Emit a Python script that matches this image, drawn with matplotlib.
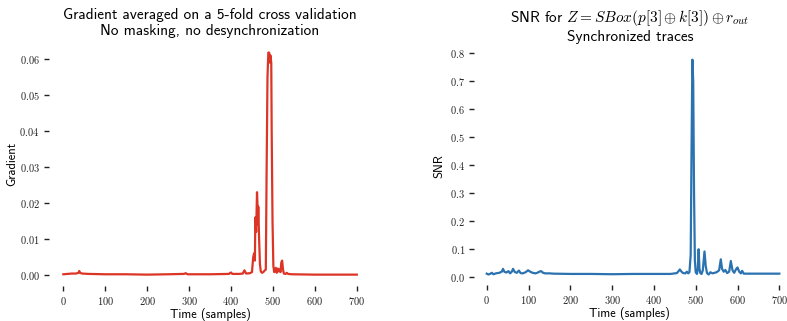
import matplotlib
matplotlib.use("Agg")
import matplotlib.pyplot as plt
from matplotlib.ticker import FuncFormatter

plt.rcParams["mathtext.fontset"] = "cm"
plt.rcParams["font.family"] = ["cmss10", "DejaVu Sans"]
plt.rcParams["axes.unicode_minus"] = False

# gradient (left panel)
grad_t = [0, 10, 20, 30, 36, 38, 40, 45, 60, 100, 150, 200, 250, 288, 292, 296,
          350, 395, 400, 403, 420, 428, 432, 436, 445, 450, 453, 455, 457, 458,
          460, 462, 463, 464, 465, 467, 469, 471, 474, 477, 480, 483, 485, 487,
          489, 491, 493, 494, 496, 497, 499, 501, 503, 505, 507, 509, 512, 514,
          516, 518, 520, 522, 524, 526, 530, 533, 536, 545, 600, 700]
grad_v = [0.0002, 0.0003, 0.0004, 0.0004, 0.0006, 0.0011, 0.0006, 0.0004,
          0.0003, 0.0002, 0.0002, 0.0001, 0.0002, 0.0003, 0.0005, 0.0002,
          0.0002, 0.0003, 0.0007, 0.0003, 0.0003, 0.0004, 0.0013, 0.0004,
          0.0005, 0.0008, 0.0050, 0.0060, 0.0040, 0.0160, 0.0120, 0.0230,
          0.0200, 0.0140, 0.0190, 0.0100, 0.0030, 0.0010, 0.0006, 0.0008,
          0.0012, 0.0015, 0.0300, 0.0550, 0.0618, 0.0618, 0.0590, 0.0610,
          0.0590, 0.0400, 0.0150, 0.0025, 0.0008, 0.0012, 0.0020, 0.0006,
          0.0018, 0.0010, 0.0015, 0.0008, 0.0035, 0.0040, 0.0015, 0.0004,
          0.0003, 0.0006, 0.0003, 0.0002, 0.0001, 0.0001]

# SNR (right panel)
snr_t = [0, 4, 8, 12, 16, 22, 30, 36, 39, 42, 47, 52, 56, 60, 63, 67, 72, 77,
         81, 86, 93, 99, 104, 110, 116, 121, 126, 130, 135, 140, 150, 160, 200,
         250, 300, 350, 400, 440, 455, 459, 462, 466, 470, 475, 479, 482, 485,
         488, 490, 492, 494, 496, 498, 500, 503, 505, 507, 509, 511, 514, 517,
         521, 524, 527, 531, 535, 540, 545, 550, 556, 560, 563, 567, 571, 575,
         580, 584, 588, 592, 597, 600, 604, 608, 611, 615, 630, 700]
snr_v = [0.013, 0.010, 0.012, 0.016, 0.011, 0.014, 0.016, 0.020, 0.030, 0.020,
         0.017, 0.022, 0.014, 0.020, 0.030, 0.019, 0.016, 0.024, 0.015, 0.014,
         0.018, 0.025, 0.020, 0.016, 0.014, 0.016, 0.020, 0.022, 0.016, 0.014,
         0.014, 0.013, 0.012, 0.012, 0.011, 0.012, 0.012, 0.012, 0.015, 0.022,
         0.028, 0.020, 0.015, 0.014, 0.020, 0.014, 0.018, 0.080, 0.450, 0.775,
         0.700, 0.300, 0.060, 0.018, 0.012, 0.030, 0.100, 0.030, 0.015, 0.012,
         0.025, 0.092, 0.040, 0.015, 0.010, 0.018, 0.014, 0.016, 0.018, 0.025,
         0.064, 0.030, 0.020, 0.026, 0.015, 0.020, 0.058, 0.025, 0.016, 0.030,
         0.035, 0.020, 0.014, 0.023, 0.013, 0.013, 0.013]

x_ticks = [0, 100, 200, 300, 400, 500, 600, 700]
grad_ticks = [0.00, 0.01, 0.02, 0.03, 0.04, 0.05, 0.06]
snr_ticks = [0.0, 0.1, 0.2, 0.3, 0.4, 0.5, 0.6, 0.7, 0.8]


def style(ax, yticks, fmt):
    for s in ax.spines.values():
        s.set_visible(False)
    ax.set_xticks(x_ticks)
    ax.set_yticks(yticks)
    ax.xaxis.set_major_formatter(FuncFormatter(lambda v, p: r"$%d$" % v))
    ax.yaxis.set_major_formatter(FuncFormatter(lambda v, p: "$" + fmt % v + "$"))
    ax.tick_params(direction="out", length=3.5, width=1, colors="#222222",
                   labelsize=7.5, pad=3)
    ax.set_xlabel("Time (samples)", fontsize=9, labelpad=0.5)


fig = plt.figure(figsize=(7.87, 3.21), dpi=100)

ax1 = fig.add_axes([0.0618, 0.1097, 0.4102, 0.759])
ax1.plot(grad_t, grad_v, color="#dc3526", lw=1.6)
ax1.set_xlim(-35, 735)
ax1.set_ylim(-0.003, 0.0647)
style(ax1, grad_ticks, "%.2f")
ax1.set_ylabel("Gradient", fontsize=9, labelpad=0.5)
ax1.set_title("Gradient averaged on a 5-fold cross validation\n"
              "No masking, no desynchronization", fontsize=11, pad=5,
              linespacing=1.2)

ax2 = fig.add_axes([0.6025, 0.1125, 0.3957, 0.741])
ax2.plot(snr_t, snr_v, color="#2b72b0", lw=1.6)
ax2.set_xlim(-30, 715)
ax2.set_ylim(-0.027, 0.82)
style(ax2, snr_ticks, "%.1f")
ax2.set_ylabel("SNR", fontsize=9, labelpad=3)
ax2.set_title("SNR for $Z = SBox(p[3] \\oplus k[3]) \\oplus r_{out}$\n"
              "Synchronized traces", fontsize=11, pad=4, linespacing=1.2)

fig.savefig("out.png", dpi=100)
